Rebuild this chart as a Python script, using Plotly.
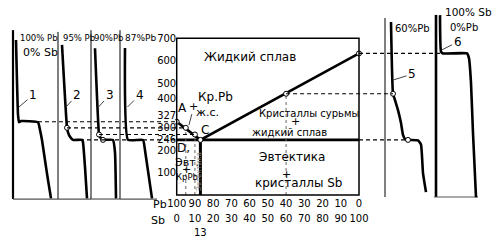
import plotly.graph_objects as go

# ---------------- data ----------------
sb_ticks = [0, 10, 20, 30, 40, 50, 60, 70, 80, 90, 100]
pb_labels = [str(100 - v) for v in sb_ticks]
sb_labels = [str(v) for v in sb_ticks]
temp_ticks = [100, 200, 246, 300, 327, 400, 500, 600, 700]
temp_labels = ["100", "200", "246", "300", "327<br>\u00a0", "400<br>\u00a0", "500", "600", "700"]

liquidus_sb = [0, 13, 100]
liquidus_T = [327, 246, 632]
eutectic_T = 246
eutectic_sb = 13
points_sb = [0, 5, 10, 13, 60, 100]
points_T = [327, 300, 270, 246, 452, 632]

# cooling curves: time (arbitrary units) vs temperature
curve1_t = [3, 5, 6, 8, 25, 27, 29, 32, 35, 38]
curve1_T = [692, 360, 325, 330, 325, 290, 245, 155, 67, -15]
curve2_t = [4, 9, 10, 12, 15, 24, 25, 27, 29]
curve2_T = [670, 300, 280, 260, 246, 246, 235, 125, -15]
curve3_t = [4, 8, 9, 11, 12, 22, 24, 25]
curve3_T = [655, 270, 258, 250, 246, 246, 190, -15]
curve4_t = [5, 8, 23, 25, 32]
curve4_T = [656, 246, 246, 200, -15]
curve5_t = [6, 8, 10, 13, 16, 18, 20, 23, 33, 36, 38, 41]
curve5_T = [772, 452, 424, 379, 321, 268, 250, 246, 244, 225, 98, 13]
curve6_t = [4, 5, 7, 31, 33, 35, 37, 40]
curve6_T = [803, 640, 632, 632, 610, 500, 277, -10]

# ---------------- geometry / style ----------------
W, H = 500, 246
FONT = "DejaVu Sans"
ZERO_PX, PX_PER_DEG = 195, 0.224
TOP_PX, BOT_PX = 8, 202
y_range = [(ZERO_PX - BOT_PX) / PX_PER_DEG, (ZERO_PX - TOP_PX) / PX_PER_DEG]
plot_h = BOT_PX - TOP_PX

def paper_y(px):
    return (BOT_PX - px) / plot_h

X2_RANGE = [-0.8, 102]
BOX_L, BOX_R = 176.7, 359.0
scale = (BOX_R - BOX_L) / 100
x2_dom = [(BOX_L + X2_RANGE[0] * scale) / W, (BOX_L + X2_RANGE[1] * scale) / W]

def sb_px(sb):
    return BOX_L + sb * scale

panels = [
    dict(name="x4", px=13, w=45, top=736, fw=2.2, base=-18, b0=0, b1=45),
    dict(name="x5", px=58, w=33, top=728, fw=1, base=-18, b0=0, b1=33),
    dict(name="x6", px=91, w=29, top=736, fw=1, base=-18, b0=0, b1=29),
    dict(name="x7", px=120, w=40, top=736, fw=1, base=-18, b0=0, b1=37),
    dict(name="x8", px=385, w=45, top=790, fw=1, base=None),
    dict(name="x9", px=436, w=44, top=804, fw=2.6, base=-9, b0=-2, b1=42),
]
curves = [(curve1_t, curve1_T), (curve2_t, curve2_T), (curve3_t, curve3_T),
          (curve4_t, curve4_T), (curve5_t, curve5_T), (curve6_t, curve6_T)]

def panel_px(i, t):
    return panels[i]["px"] + t

fig = go.Figure()
LINE = dict(color="black", width=2.6)

# main diagram
fig.add_trace(go.Scatter(x=liquidus_sb, y=liquidus_T, xaxis="x2", yaxis="y",
                         mode="lines", line=LINE, hoverinfo="skip"))
fig.add_trace(go.Scatter(x=[sb_ticks[0], sb_ticks[-1]], y=[eutectic_T, eutectic_T],
                         xaxis="x2", yaxis="y", mode="lines", line=LINE, hoverinfo="skip"))
fig.add_trace(go.Scatter(x=[eutectic_sb, eutectic_sb], y=[0, eutectic_T],
                         xaxis="x2", yaxis="y", mode="lines", line=dict(color="black", width=3),
                         hoverinfo="skip"))
for s, T in zip([points_sb[1], points_sb[2], points_sb[4]],
                [points_T[1], points_T[2], points_T[4]]):
    fig.add_trace(go.Scatter(x=[s, s], y=[0, T], xaxis="x2", yaxis="y", mode="lines",
                             line=dict(color="#666", width=1, dash="dot"), hoverinfo="skip"))
fig.add_trace(go.Scatter(x=points_sb, y=points_T, xaxis="x2", yaxis="y", mode="markers",
                         marker=dict(size=5, color="white", line=dict(color="black", width=1)),
                         hoverinfo="skip"))
# dummy trace for Sb label axis
fig.add_trace(go.Scatter(x=[sb_ticks[0]], y=[0], xaxis="x3", yaxis="y", mode="markers",
                         marker=dict(opacity=0), hoverinfo="skip"))

# cooling curve panels
for i, (p, (t, T)) in enumerate(zip(panels, curves)):
    fig.add_trace(go.Scatter(x=[0, 0], y=[p["base"] if p["base"] is not None else -9, p["top"]],
                             xaxis=p["name"], yaxis="y", mode="lines",
                             line=dict(color="black", width=p["fw"]), hoverinfo="skip"))
    if p["base"] is not None:
        fig.add_trace(go.Scatter(x=[p["b0"], p["b1"]], y=[p["base"], p["base"]],
                                 xaxis=p["name"], yaxis="y", mode="lines",
                                 line=dict(color="#555", width=1.2), hoverinfo="skip"))
    fig.add_trace(go.Scatter(x=t, y=T, xaxis=p["name"], yaxis="y", mode="lines",
                             line=dict(color="black", width=2.6, shape="spline", smoothing=0.4),
                             hoverinfo="skip"))

# circles on curves
circ = [(1, curve2_t[1], curve2_T[1]), (2, curve3_t[1], curve3_T[1]),
        (2, curve3_t[4], curve3_T[4]), (4, curve5_t[1], curve5_T[1]),
        (4, curve5_t[7], curve5_T[7])]
for i, t, T in circ:
    fig.add_trace(go.Scatter(x=[t], y=[T], xaxis=panels[i]["name"], yaxis="y", mode="markers",
                             marker=dict(size=5, color="white", line=dict(color="black", width=1)),
                             hoverinfo="skip"))

# dashed connectors (overlay axis in page pixels)
connectors = [
    (panel_px(0, curve1_t[4]), sb_px(points_sb[0]), points_T[0]),
    (panel_px(1, curve2_t[1]), sb_px(points_sb[1]), points_T[1]),
    (panel_px(2, curve3_t[1]), sb_px(points_sb[2]), points_T[2]),
    (panel_px(1, curve2_t[4]), sb_px(points_sb[0]), eutectic_T),
    (sb_px(points_sb[5]), panel_px(5, curve6_t[2]), points_T[5]),
    (sb_px(points_sb[4]), panel_px(4, curve5_t[1]), points_T[4]),
    (sb_px(points_sb[5]), panel_px(4, curve5_t[7]), eutectic_T),
]
for x0, x1, T in connectors:
    fig.add_trace(go.Scatter(x=[x0, x1], y=[T, T], xaxis="x10", yaxis="y", mode="lines",
                             line=dict(color="black", width=1.2, dash="4px,3px"), hoverinfo="skip"))

shapes = [dict(type="rect", xref="x2", yref="y", x0=0, x1=100, y0=0, y1=700,
               line=dict(color="black", width=1.5))]

ann = []
def A(text, x, y, xref="x2", size=12, color="black", **kw):
    d = dict(text=text, x=x, y=y, xref=xref, yref="y", showarrow=False,
             font=dict(family=FONT, size=size, color=color))
    d.update(kw)
    ann.append(d)

# main diagram labels
A("Жидкий сплав", 40, 616)
A("Кр.Pb", 10.6, 437, xanchor="left")
A("ж.с.", 16.9, 370, size=11)
A("A", 3.3, 388)
A("C", 15.5, 290)
A("D,", 3.8, 210)
A("Эвт.", 5.9, 143, size=11)
A("+", 5.1, 112, size=11)
A("КрPb", 5.6, 80, size=8.5)
A("Эвтектика", 12.2, 107, size=7, color="#888", textangle=-90)
A("Кристаллы сурьмы", 72.3, 362, size=10)
A("+", 65, 326, size=11)
A("жидкий сплав", 61.9, 281, size=10)
A("Эвтектика", 63, 170)
A("+", 60.5, 92, size=11)
A("кристаллы Sb", 66.8, 54)
A("B", 103.8, 683)
A("632", 107.5, 589, size=11)
A("E", 103.8, 187)
ann.append(dict(text="+", x=6.7, y=312, xref="x2", yref="y", showarrow=True,
                arrowhead=0, arrowwidth=1, ax=5, ay=-19,
                font=dict(family=FONT, size=11, color="black")))

# panel labels
A("100% Pb", 4.5, 701, xref="x4", size=8.5, xanchor="left")
A("0% Sb", 7.5, 634, xref="x4", size=11, xanchor="left")
A("95% Pb", 2.5, 701, xref="x5", size=8.5, xanchor="left")
A("90%Pb", 0.8, 701, xref="x6", size=8.5, xanchor="left")
A("87%Pb", 2.5, 701, xref="x7", size=9, xanchor="left")
A("60%Pb", 7.5, 745, xref="x8", size=10, xanchor="left")
A("100% Sb", 6.5, 817, xref="x9", size=10.5, xanchor="left")
A("0%Pb", 11.5, 750, xref="x9", size=10, xanchor="left")

num = [("1", 0, 6, 393, 14, -12), ("2", 1, 8, 393, 11, -12), ("3", 2, 7.5, 393, 11, -12),
       ("4", 3, 7.5, 393, 12, -12), ("5", 4, 8, 513, 19, -6), ("6", 5, 5.5, 647, 16, -8)]
for txt, i, x, y, ax, ay in num:
    ann.append(dict(text=txt, x=x, y=y, xref=panels[i]["name"], yref="y", showarrow=True,
                    arrowhead=0, arrowwidth=1, ax=ax, ay=ay,
                    font=dict(family=FONT, size=12, color="black")))

# axis side labels
ann.append(dict(text="Pb", x=160 / W, y=paper_y(204), xref="paper", yref="paper",
                xanchor="center", yanchor="middle",
                showarrow=False, font=dict(family=FONT, size=11, color="black")))
ann.append(dict(text="Sb", x=158 / W, y=paper_y(220), xref="paper", yref="paper",
                xanchor="center", yanchor="middle",
                showarrow=False, font=dict(family=FONT, size=11, color="black")))
ann.append(dict(text="13", x=eutectic_sb, y=paper_y(233), xref="x2", yref="paper",
                xanchor="center", yanchor="middle",
                showarrow=False, font=dict(family=FONT, size=10, color="black")))

AX_POS = paper_y(196)
layout = dict(
    template="none",
    width=W, height=H, margin=dict(l=0, r=0, t=TOP_PX, b=H - BOT_PX, pad=0, autoexpand=False),
    paper_bgcolor="white", plot_bgcolor="rgba(0,0,0,0)", showlegend=False,
    font=dict(family=FONT, color="black"),
    shapes=shapes, annotations=ann,
    yaxis=dict(range=y_range, domain=[0, 1], anchor="x2", tickvals=temp_ticks,
               ticktext=temp_labels, ticks="", showgrid=False, zeroline=False, automargin=False,
               showline=False, tickfont=dict(family=FONT, size=10), ticklabelstandoff=-2),
    xaxis2=dict(domain=x2_dom, range=X2_RANGE, anchor="free", position=AX_POS,
                tickvals=sb_ticks, ticktext=pb_labels, ticks="", showgrid=False, tickangle=0,
                zeroline=False, showline=False, automargin=False,
                tickfont=dict(family=FONT, size=10)),
    xaxis3=dict(overlaying="x2", range=X2_RANGE, anchor="free", position=AX_POS,
                side="bottom", tickvals=sb_ticks, ticktext=sb_labels, ticks="", tickangle=0,
                showgrid=False, zeroline=False, showline=False, automargin=False,
                tickfont=dict(family=FONT, size=10), ticklabelstandoff=15),
    xaxis10=dict(domain=[0, 1], range=[0, W], visible=False, anchor="y"),
    xaxis=dict(visible=False, domain=[0, 0.01]),
)
for p in panels:
    key = "xaxis" + p["name"][1:]
    layout[key] = dict(domain=[(p["px"] - 3) / W, min(1, (p["px"] + p["w"]) / W)],
                       range=[-3, p["w"]], visible=False, anchor="y")
fig.update_layout(**layout)
fig.write_html("out.html")
